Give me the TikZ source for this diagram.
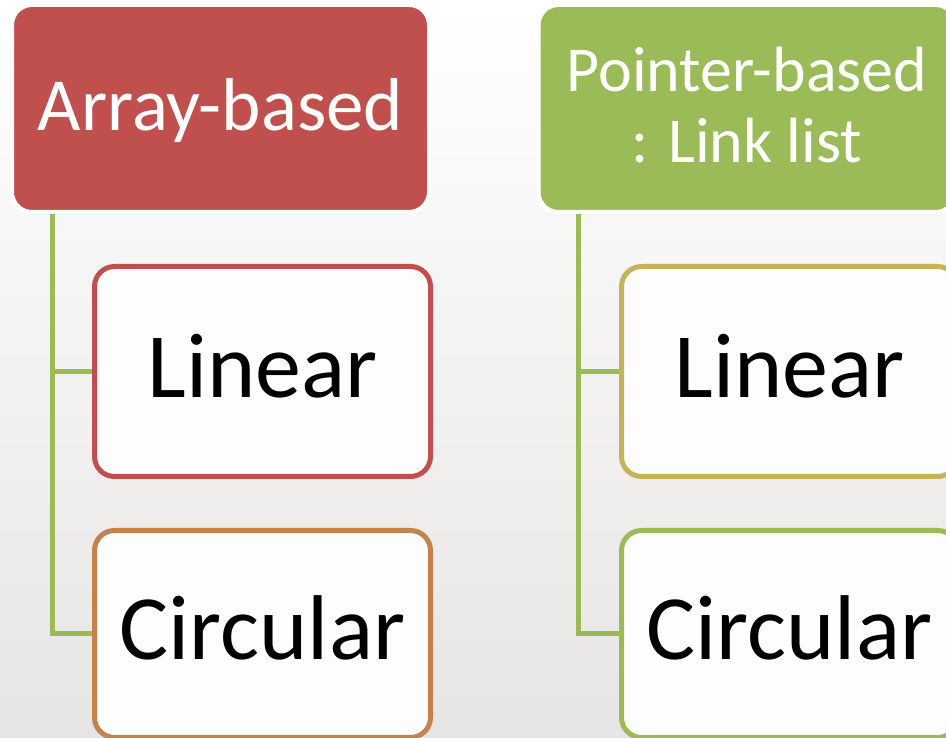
\documentclass[tikz,border=0pt]{standalone}
\usepackage{fontspec}
\setmainfont{Carlito}
\definecolor{cRed}{HTML}{C0504D}
\definecolor{cGreen}{HTML}{9BBB59}
\definecolor{cOlive}{HTML}{C4B35A}
\definecolor{cOrange}{HTML}{C3834F}
\definecolor{bgBot}{HTML}{E7E5E4}
\definecolor{leafFill}{HTML}{FDFDFD}
\begin{document}
\begin{tikzpicture}[x=1pt,y=1pt,
  hdr/.style={rounded corners=20pt, draw=white, line width=4pt,
    minimum width=417pt, minimum height=207pt, inner sep=0pt},
  hdrtext/.style={text=white, inner sep=0pt, font=\fontsize{75}{80}\selectfont},
  leaf/.style={rounded corners=20pt, fill=leafFill, line width=5pt,
    minimum width=336pt, inner sep=0pt},
  leaftext/.style={text=black, inner sep=0pt, font=\fontsize{92}{100}\selectfont},
  link/.style={draw=cGreen, line width=5pt, line join=miter}]
  % canvas with soft vertical gradient
  \clip (0,0) rectangle (946,738);
  \shade[top color=white, bottom color=bgBot] (0,0) rectangle (946,738);

  % left column: array-based
  \node[hdr, fill=cRed] (arr) at (220.5,629.5) {};
  \node[hdrtext, anchor=base] (arrT) at ([yshift=-22.5pt]arr.center) {Array-based};
  \node[leaf, draw=cRed, minimum height=210pt] (linL) at (262.5,366.5) {};
  \node[leaftext, anchor=base] (linLT) at ([yshift=-26.5pt]linL.center) {Linear};
  \node[leaf, draw=cOrange, minimum height=207pt] (cirL) at (262.5,104) {};
  \node[leaftext, anchor=base] (cirLT) at ([yshift=-26pt]cirL.center) {Circular};
  \draw[link] ([xshift=42pt]arr.south west) |- (linL.west);
  \draw[link] ([xshift=42pt]arr.south west) |- (cirL.west);

  % right column: pointer-based (base anchor sits on the last line)
  \node[hdr, fill=cGreen] (ptr) at (747,629.5) {};
  \node[hdrtext, anchor=base, align=center, font=\fontsize{64}{71}\selectfont]
    (ptrT) at ([yshift=-54.5pt]ptr.center) {Pointer-based\\: Link list};
  \node[leaf, draw=cOlive, minimum height=210pt] (linR) at (789.5,366.5) {};
  \node[leaftext, anchor=base] (linRT) at ([yshift=-26.5pt]linR.center) {Linear};
  \node[leaf, draw=cGreen, minimum height=207pt] (cirR) at (789.5,104) {};
  \node[leaftext, anchor=base] (cirRT) at ([yshift=-26pt]cirR.center) {Circular};
  \draw[link] ([xshift=42pt]ptr.south west) |- (linR.west);
  \draw[link] ([xshift=42pt]ptr.south west) |- (cirR.west);
\end{tikzpicture}
\end{document}
